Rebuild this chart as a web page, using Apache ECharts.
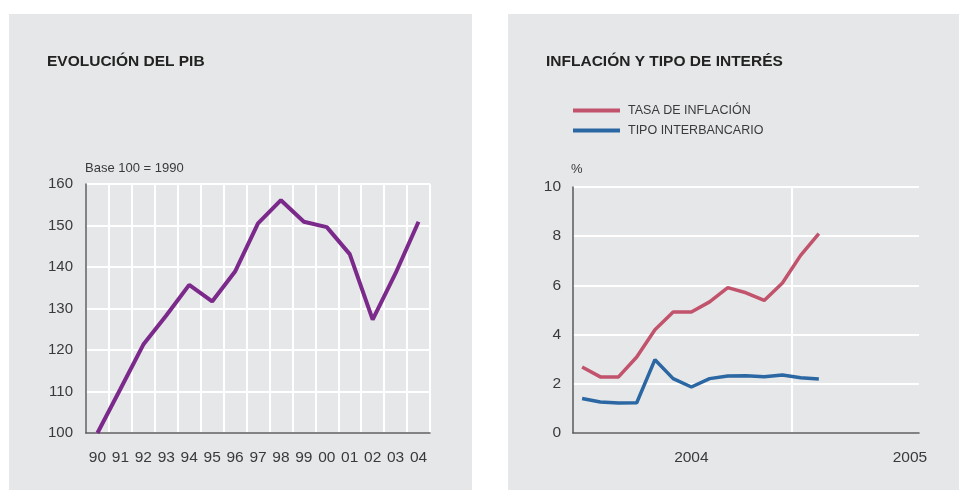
<!DOCTYPE html>
<html>
<head>
<meta charset="utf-8">
<script src="https://cdn.jsdelivr.net/npm/echarts@6/dist/echarts.min.js"></script>
<style>
    html, body { margin: 0; padding: 0; background: #ffffff; }
    #main { width: 959px; height: 495px; }
</style>
</head>
<body>
<div id="main"></div>
<script>
// PIB, base 100 = 1990
var years = ['90','91','92','93','94','95','96','97','98','99','00','01','02','03','04'];
var pib = [100, 110.6, 121.3, 128.3, 135.7, 131.7, 138.9, 150.5, 156.1, 150.9, 149.6, 143.1, 127.3, 138.5, 150.9];

// inflación y tipo interbancario (mensual)
var months = ['2004-01','2004-02','2004-03','2004-04','2004-05','2004-06','2004-07','2004-08','2004-09','2004-10',
    '2004-11','2004-12','2005-01','2005-02','2005-03','2005-04','2005-05','2005-06','2005-07'];
var inflacion = [2.68, 2.28, 2.28, 3.09, 4.2, 4.92, 4.92, 5.33, 5.91, 5.7, 5.39, 6.1, 7.22, 8.1];
var interbancario = [1.40, 1.26, 1.22, 1.23, 2.98, 2.21, 1.87, 2.21, 2.32, 2.33, 2.29, 2.36, 2.25, 2.2];
// etiquetas de año (a mitad de año) y separación entre años, en meses
var yearLabelPos = [6.5, 18.5];
var yearLabels = ['2004', '2005'];
var yearBreaks = [12];

var fontFam = '"Liberation Sans", Arial, sans-serif';
var axisGray = '#5a5a5c';
var textGray = '#3a3a3c';

var myChart = echarts.init(document.getElementById('main'));
var option = {
    backgroundColor: '#ffffff',
    animation: false,
    textStyle: {fontFamily: fontFam},
    graphic: [
        {type: 'rect', z: -10, shape: {x: 9, y: 14, width: 463, height: 476}, style: {fill: '#e6e7e8'}},
        {type: 'rect', z: -10, shape: {x: 508, y: 14, width: 451, height: 476}, style: {fill: '#e6e7e8'}}
    ],
    title: [
        {text: 'EVOLUCIÓN DEL PIB', left: 42, top: 49,
            textStyle: {fontSize: 15.5, fontWeight: 'bold', color: '#222', fontFamily: fontFam}},
        {text: 'INFLACIÓN Y TIPO DE INTERÉS', left: 541, top: 49,
            textStyle: {fontSize: 15.5, fontWeight: 'bold', color: '#222', fontFamily: fontFam}}
    ],
    legend: {
        orient: 'vertical',
        left: 573,
        top: 104,
        padding: 0,
        itemWidth: 47,
        itemHeight: 4,
        itemGap: 7,
        icon: 'rect',
        textStyle: {fontSize: 12.5, color: textGray, padding: [0, 0, 0, 3]},
        data: ['TASA DE INFLACIÓN', 'TIPO INTERBANCARIO']
    },
    grid: [
        {left: 86, top: 184, width: 344, height: 249},
        {left: 573, top: 187, width: 346, height: 246}
    ],
    xAxis: [
        {
            type: 'category', gridIndex: 0, data: years, boundaryGap: true,
            axisLine: {lineStyle: {color: axisGray, width: 1.5}},
            axisTick: {show: false},
            axisLabel: {color: textGray, fontSize: 15.5, margin: 17, interval: 0},
            splitLine: {show: true, interval: 0, lineStyle: {color: '#ffffff', width: 2}}
        },
        {
            type: 'category', gridIndex: 1, data: months, boundaryGap: true,
            axisLine: {lineStyle: {color: axisGray, width: 1.5}},
            axisTick: {show: false},
            axisLabel: {show: false},
            splitLine: {show: false}
        },
        {
            // eje auxiliar solo para la rejilla vertical y los años
            type: 'value', gridIndex: 1, min: 0, max: months.length, position: 'bottom',
            axisLine: {show: false},
            axisTick: {show: false, customValues: yearBreaks},
            axisLabel: {
                color: textGray, fontSize: 15.5, margin: 17,
                customValues: yearLabelPos,
                formatter: function (v) { return yearLabels[yearLabelPos.indexOf(v)] || ''; }
            },
            splitLine: {show: true, lineStyle: {color: '#ffffff', width: 2}}
        }
    ],
    yAxis: [
        {
            type: 'value', gridIndex: 0, min: 100, max: 160, interval: 10,
            name: 'Base 100 = 1990', nameLocation: 'end', nameGap: 9,
            nameTextStyle: {align: 'left', fontSize: 13, color: textGray, padding: [0, 0, 0, -1]},
            axisLine: {show: true, lineStyle: {color: axisGray, width: 1.5}},
            axisTick: {show: false},
            axisLabel: {color: textGray, fontSize: 15, margin: 13},
            splitLine: {lineStyle: {color: '#ffffff', width: 2}}
        },
        {
            type: 'value', gridIndex: 1, min: 0, max: 10, interval: 2,
            name: '%', nameLocation: 'end', nameGap: 11,
            nameTextStyle: {align: 'left', fontSize: 13, color: textGray, padding: [0, 0, 0, -2]},
            axisLine: {show: true, lineStyle: {color: axisGray, width: 1.5}},
            axisTick: {show: false},
            axisLabel: {color: textGray, fontSize: 15.5, margin: 12},
            splitLine: {lineStyle: {color: '#ffffff', width: 2}}
        }
    ],
    series: [
        {type: 'line', name: 'PIB', xAxisIndex: 0, yAxisIndex: 0, data: pib, symbol: 'none',
            lineStyle: {color: '#7b2a8b', width: 4}, itemStyle: {color: '#7b2a8b'}},
        {type: 'line', name: 'TASA DE INFLACIÓN', xAxisIndex: 1, yAxisIndex: 1, data: inflacion, symbol: 'none',
            lineStyle: {color: '#c2536c', width: 3.5}, itemStyle: {color: '#c2536c'}},
        {type: 'line', name: 'TIPO INTERBANCARIO', xAxisIndex: 1, yAxisIndex: 1, data: interbancario, symbol: 'none',
            lineStyle: {color: '#2a67a3', width: 3.5}, itemStyle: {color: '#2a67a3'}}
    ]
};
myChart.setOption(option);
</script>
</body>
</html>
